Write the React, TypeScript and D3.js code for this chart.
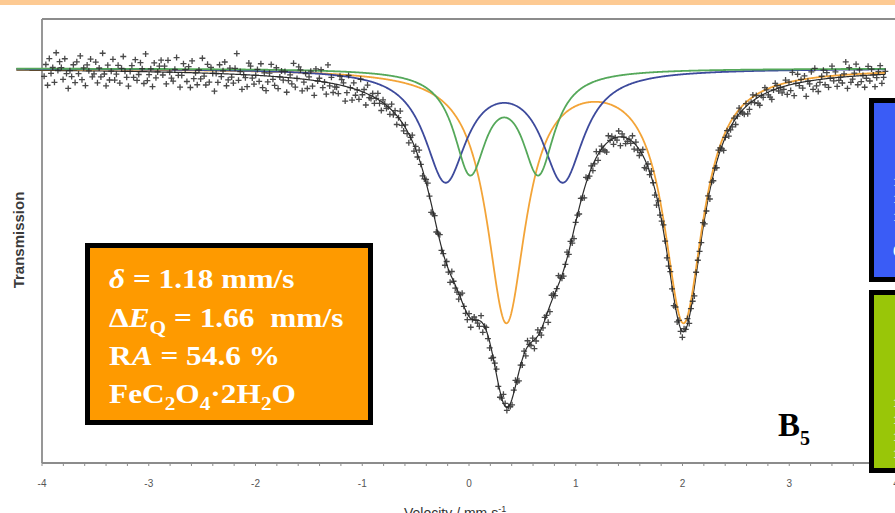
import React from 'react';
import * as d3 from 'd3';

const W = 895;
const H = 513;

// x axis
const xTicks = [-4, -3, -2, -1, 0, 1, 2, 3, 4];
const xTickLabels = ['-4', '-3', '-2', '-1', '0', '1', '2', '3', '4'];
const xMinorStep = 0.2;

const velStart = -3.98;
const velEnd = 3.9;
const noiseLevels = 'abcdefghijklmnopq'; // a = -8 ... i = 0 ... q = +8
const noiseUnit = 0.0006;
const noise =
  'gkdmhjeoil' + 'jfmhcigkel' + 'hnfjdkimgh' + 'lejgohdkfi' + 'mfhkejnigd' +
  'ikgmfhljeo' + 'fhjdlgikmh' + 'kemigfjnhd' + 'hljfkdmgie' + 'jgnhelfkic' +
  'iflhjmegkh' + 'fkpgjdihem' + 'lhfikgmejd' + 'gjmhfleikh' + 'kdhjgnfiml' +
  'ehkfjlgdmi' + 'jmgieohkfh' + 'hflkjdgmie' + 'kgifmhjelh' +
  'hjgikhfjih' + 'igkhjfilhg' + 'jhfikgjhli' + 'ghjkifhjgi' + 'khigjhfkih' +
  'hgjlihgjfi' + 'jihgkfijhg' + 'fijkhgiljh' + 'ihgjkhfigj' + 'gkihjfhkig' +
  'hjiegkjhil' + 'jhgikhjgfi' + 'igjhfkihjg' + 'hkgijhgfki' + 'jgihkfjigh' +
  'ihkgjhgikf' + 'gjhkigfjhi' + 'kighjhfigj' + 'hgjikgihfj' + 'jihkghjfig' +
  'igkjhfijgh' + 'hjgikihgjf' + 'gikhjgfihk' + 'jhgfikjhig' +
  'hkfjgmeilh' + 'jgkdihlfmg' + 'ehjlgkfimh' + 'kfhigjnelg' + 'hjmfkgiehl' +
  'gkiehjlfhj';

// fitted quadrupole doublets (Lorentzian lines)
const baseline = 1.0;
const siteNames = ['FeC2O4·2H2O', 'site 2', 'site 3'];
const isomerShift = [1.18, 0.33, 0.33];
const quadSplit = [1.66, 1.1, 0.64];
const halfWidth = [0.222, 0.238, 0.183];
const lineDepth = [0.0508, 0.0222, 0.0202];
const siteColors = ['#f3a438', '#3d4a9c', '#55a85a'];
const fitStart = -4.24;
const fitEnd = 3.9;

const lor = (v: number, c: number, g: number) => 1 / (1 + ((v - c) / g) ** 2);
const siteAbs = (v: number, k: number) =>
  lineDepth[k] *
  (lor(v, isomerShift[k] - quadSplit[k] / 2, halfWidth[k]) +
    lor(v, isomerShift[k] + quadSplit[k] / 2, halfWidth[k]));
const totalT = (v: number) => baseline - siteNames.reduce((s, _n, k) => s + siteAbs(v, k), 0);

export default function App() {
  const x = d3.scaleLinear().domain([-4, 4]).range([42, 896]);
  const y = d3.scaleLinear().domain([0.92, 1.01]).range([463, 19]);

  const N = noise.length;
  const points = d3.range(N).map((i) => {
    const v = velStart + (i * (velEnd - velStart)) / (N - 1);
    const r = (noiseLevels.indexOf(noise[i]) - 8) * noiseUnit;
    return { v, t: totalT(v) + r };
  });

  const fitGrid = d3.range(fitStart, fitEnd + 0.0001, 0.005);
  const line = d3
    .line<number>()
    .x((v) => x(v))
    .curve(d3.curveLinear);

  const sitePaths = siteNames.map((_n, k) =>
    line.y((v) => y(baseline - siteAbs(v, k)))(fitGrid) as string
  );
  const totalPath = line.y((v) => y(totalT(v)))(fitGrid) as string;

  const minorTicks = d3.range(-4, 4.0001, xMinorStep);
  const frame = '#8c8c8c';
  const serif = '"Liberation Serif", "Times New Roman", serif';
  const sans = '"Liberation Sans", Arial, sans-serif';

  return (
    <svg
      width={W}
      height={H}
      style={{ position: 'fixed', left: 0, top: 0, background: '#fff' }}
      fontFamily={sans}
    >
      <rect x={0} y={0} width={W} height={5} fill="#fdca93" />

      {/* frame */}
      <line x1={42} x2={W} y1={19} y2={19} stroke={frame} strokeWidth={1.8} />
      <line x1={42} x2={42} y1={19} y2={463} stroke={frame} strokeWidth={1.8} />
      <line x1={42} x2={W} y1={463} y2={463} stroke={frame} strokeWidth={1.8} />
      {minorTicks.map((v, i) => (
        <line key={i} x1={x(v)} x2={x(v)} y1={462} y2={466} stroke={frame} strokeWidth={1} />
      ))}
      {xTicks.map((v, i) => (
        <text key={i} x={x(v)} y={487} fontSize={10} fill="#555" textAnchor="middle">
          {xTickLabels[i]}
        </text>
      ))}
      <text x={404} y={518} fontSize={14} fill="#333">
        Velocity / mm s<tspan dy={-6} fontSize={9}>-1</tspan>
      </text>
      <text
        transform="translate(24,240) rotate(-90)"
        fontSize={15}
        fontWeight="bold"
        fill="#3a3a3a"
        textAnchor="middle"
      >
        Transmission
      </text>

      {/* fits */}
      <path d={totalPath} fill="none" stroke="#2b2b2b" strokeWidth={1.2} />
      {sitePaths.map((d, k) => (
        <path key={k} d={d} fill="none" stroke={siteColors[k]} strokeWidth={1.8} />
      ))}

      {/* data */}
      <g stroke="#2a2a2a" strokeWidth={1.3} opacity={0.85}>
        {points.map((p, i) => (
          <path
            key={i}
            transform={`translate(${x(p.v)},${y(p.t)})`}
            d="M-3,0H3M0,-3V3"
          />
        ))}
      </g>

      {/* orange annotation */}
      <rect x={87.5} y={245.5} width={283} height={177} fill="#fe9a00" stroke="#000" strokeWidth={5} />
      <g
        fontFamily={serif}
        fontWeight="bold"
        fill="#fff"
        fontSize={28}
        transform="translate(109,0) scale(1.12,1)"
      >
        <text x={0} y={288}>
          <tspan fontStyle="italic">δ</tspan> = 1.18 mm/s
        </text>
        <text x={0} y={327}>
          Δ<tspan fontStyle="italic">E</tspan>
          <tspan fontSize={19} dy={7}>Q</tspan>
          <tspan dy={-7}>{' = 1.66\u00a0\u00a0mm/s'}</tspan>
        </text>
        <text x={0} y={365}>
          R<tspan fontStyle="italic">A</tspan> = 54.6 %
        </text>
        <text x={0} y={403}>
          FeC<tspan fontSize={19} dy={7}>2</tspan>
          <tspan dy={-7}>O</tspan>
          <tspan fontSize={19} dy={7}>4</tspan>
          <tspan dy={-7}>·2H</tspan>
          <tspan fontSize={19} dy={7}>2</tspan>
          <tspan dy={-7}>O</tspan>
        </text>
      </g>

      {/* right boxes (cut off by the frame edge) */}
      <rect x={871.5} y={100.5} width={40} height={179} fill="#3a5cf6" stroke="#000" strokeWidth={5} />
      <rect x={871.5} y={292.5} width={40} height={178} fill="#99c608" stroke="#000" strokeWidth={5} />
      <g fontFamily={serif} fontWeight="bold" fill="#fff" fontSize={13}>
        <text x={893} y={186}>1</text>
        <text x={893} y={203}>1</text>
        <text x={893} y={221}>1</text>
        <text x={893} y={254}>(</text>
        <text x={893} y={407}>1</text>
        <text x={893} y={424}>1</text>
        <text x={893} y={441}>1</text>
        <text x={893} y={458}>1</text>
      </g>

      {/* panel label */}
      <text x={778} y={436} fontFamily={serif} fontWeight="bold" fontSize={33} fill="#000">
        B<tspan fontSize={20} dy={9}>5</tspan>
      </text>
    </svg>
  );
}
